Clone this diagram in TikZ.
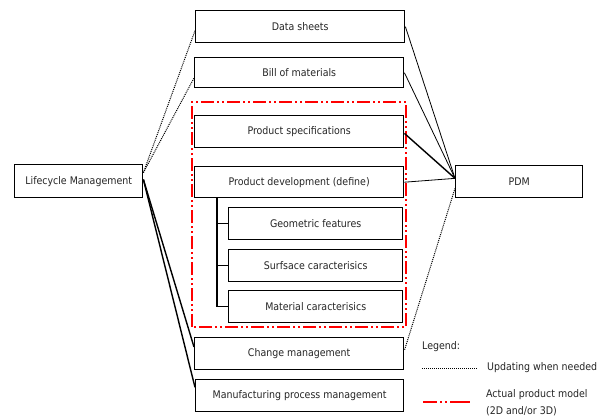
\documentclass[tikz,border=0pt]{standalone}
\usepackage{fontspec}
\setmainfont{DejaVu Sans Condensed}
\usetikzlibrary{calc}
\begin{document}
\begin{tikzpicture}[x=1pt,y=-1pt,
  box/.style={draw=black,line width=1.4pt,anchor=north west,inner sep=0pt,
    font=\fontsize{10.5}{12}\selectfont,text=black!85},
  conn/.style={draw=black,line width=0.8pt},
  thickconn/.style={draw=black,line width=1.4pt},
  dotconn/.style={draw=black,line width=1pt,dash pattern=on 1pt off 1pt},
  redframe/.style={draw=red,line width=1.5pt,dash pattern=on 13pt off 3pt on 2pt off 3pt on 2pt off 3pt},
  legtext/.style={anchor=west,inner sep=0pt,font=\fontsize{10.5}{12}\selectfont,text=black!85}
]
\useasboundingbox (0,0) rectangle (610,417);
\fill[white] (0,0) rectangle (610,417);
% red frame
\draw[redframe] (192,327) -- (192,102) -- (406,102) -- (406,327) -- cycle;
% boxes
\node[box,minimum width=209pt,minimum height=32pt] (ds) at (195,10) {Data sheets};
\node[box,minimum width=209pt,minimum height=30pt] (bom) at (194,57) {Bill of materials};
\node[box,minimum width=209pt,minimum height=32pt] (ps) at (194,115) {Product specifications};
\node[box,minimum width=209pt,minimum height=31pt] (pd) at (194,166) {Product development (define)};
\node[box,minimum width=174pt,minimum height=32pt] (gf) at (228,207) {Geometric features};
\node[box,minimum width=174pt,minimum height=32pt] (sc) at (228,249) {Surfsace caracterisics};
\node[box,minimum width=174pt,minimum height=32pt] (mc) at (228,290) {Material caracterisics};
\node[box,minimum width=209pt,minimum height=32pt] (cm) at (194,337) {Change management};
\node[box,minimum width=208pt,minimum height=32pt] (mpm) at (195,379) {Manufacturing process management};
\node[box,minimum width=128pt,minimum height=33pt] (lm) at (14,164) {Lifecycle Management};
\node[box,minimum width=127pt,minimum height=32pt] (pdm) at (455,165) {PDM};
% tree
\coordinate (tt) at ($(pd.south west)+(23,0)$);
\draw[thickconn] (tt) |- (mc.west);
\draw[thickconn] (tt |- gf.west) -- (gf.west);
\draw[thickconn] (tt |- sc.west) -- (sc.west);
% lifecycle connectors
\coordinate (lmd) at ($(lm.north east)!0.25!(lm.south east)$);
\coordinate (lms) at ($(lm.north east)!0.45!(lm.south east)$);
\draw[dotconn] (lmd) -- ($(ds.north west)!0.62!(ds.south west)$);
\draw[dotconn] (lmd) -- ($(bom.north west)!0.67!(bom.south west)$);
\draw[thickconn] (lms) -- ($(cm.north west)!0.3!(cm.south west)$);
\draw[thickconn] (lms) -- ($(mpm.north west)!0.25!(mpm.south west)$);
% PDM connectors
\coordinate (pdw) at ($(pdm.north west)!0.4!(pdm.south west)$);
\draw[conn] (pdw) -- (ds.east);
\draw[conn] (pdw) -- (bom.east);
\draw[thickconn] (pdw) -- ($(ps.north east)!0.55!(ps.south east)$);
\draw[conn] (pdw) -- (pd.east);
\draw[dotconn] ($(pdm.north west)!0.7!(pdm.south west)$) -- ($(cm.north east)!0.4!(cm.south east)$);
% legend
\node[legtext] (leg) at (422,347) {Legend:};
\coordinate (l1a) at (422,368);
\coordinate (l1b) at (477,368);
\draw[dotconn] (l1a) -- (l1b);
\node[legtext] (legA) at (487,368) {Updating when needed};
\coordinate (l2a) at (423,402);
\coordinate (l2b) at (475,402);
\draw[redframe,dash pattern=on 14pt off 3pt on 2pt off 3pt on 2pt off 3pt on 20pt] (l2a) -- (l2b);
\node[legtext,align=left,anchor=base west,font=\fontsize{10.5}{17}\selectfont] (legB) at (486,414) {Actual product model\\(2D and/or 3D)};
\end{tikzpicture}
\end{document}
